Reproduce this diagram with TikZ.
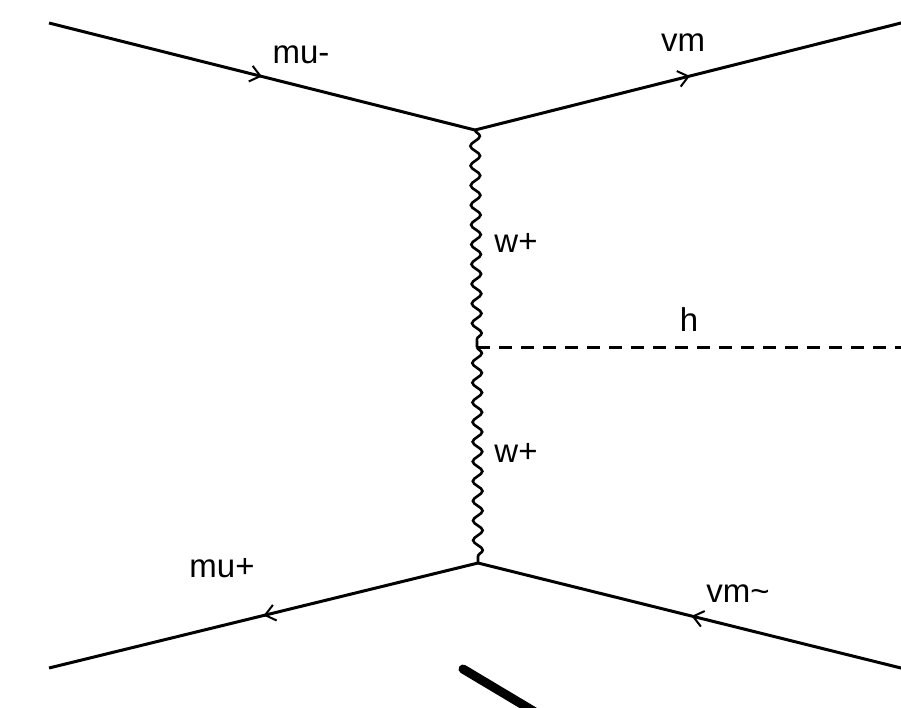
\documentclass[tikz,border=0pt]{standalone}
\usepackage{fontspec}
\setmainfont{Liberation Sans}
\usetikzlibrary{arrows.meta,decorations.pathmorphing,decorations.markings}
\begin{document}
\begin{tikzpicture}[x=1pt,y=-1pt,
  fermion/.style={line width=3pt,
    postaction={decorate},
    decoration={markings,mark=at position 0.5 with {\arrow[line width=2pt]{Straight Barb[length=10pt,width=16pt]}}}},
  boson/.style={line width=2.6pt,decorate,decoration={snake,segment length=19.7pt,amplitude=4.8pt}},
  scalar/.style={line width=3pt,dash pattern=on 13pt off 9pt},
  lbl/.style={font=\fontsize{33}{38}\selectfont,inner sep=0pt}]
  \clip (0,0) rectangle (901,707);
  \fill[white] (0,0) rectangle (901,707);

  % vertices and external ends
  \coordinate (v1) at (475,130);
  \coordinate (vh) at (477,347);
  \coordinate (v2) at (478,563);
  \coordinate (inmu) at (49,23);
  \coordinate (outvm) at (905,22);
  \coordinate (outh) at (905,347);
  \coordinate (outmu) at (49,668);
  \coordinate (invm) at (905,669);

  % fermion lines, arrows follow the fermion flow
  \draw[fermion] (inmu) -- (v1);
  \draw[fermion] (v1) -- (outvm);
  \draw[fermion] (v2) -- (outmu);
  \draw[fermion] (invm) -- (v2);

  % W propagators and Higgs line
  \draw[boson] (v1) -- (vh);
  \draw[boson] (vh) -- (v2);
  \draw[scalar] (vh) -- (outh);

  % labels
  \node[lbl] (lmum) at (301,55) {mu-};
  \node[lbl] (lvm) at (683,43) {vm};
  \node[lbl] (lw1) at (516,243) {w+};
  \node[lbl] (lh) at (689,320) {h};
  \node[lbl] (lw2) at (516,453) {w+};
  \node[lbl] (lmup) at (222,568) {mu+};
  \node[lbl] (lvmb) at (738,594) {vm\textasciitilde};

  % stray pen stroke at the bottom edge
  \coordinate (s1) at (463,669);
  \coordinate (s2) at (535,712);
  \draw[line width=9pt,line cap=round] (s1) -- (s2);
\end{tikzpicture}
\end{document}
